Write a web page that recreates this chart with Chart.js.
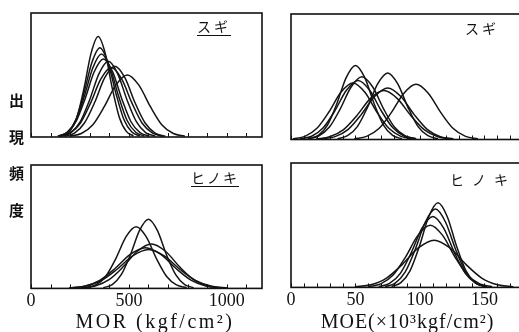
<!DOCTYPE html>
<html>
<head>
<meta charset="utf-8">
<script src="https://cdn.jsdelivr.net/npm/chart.js@4/dist/chart.umd.min.js"></script>
<style>
  html, body { margin: 0; padding: 0; background: #fff; }
  body { width: 519px; height: 332px; overflow: hidden; position: relative; }
  canvas { position: absolute; }
  .lbl { position: absolute; color: #111; white-space: nowrap; }
  .jp { font-family: "Noto Sans CJK JP", sans-serif; }
  .ylab { font-family: "Noto Sans CJK JP", sans-serif; font-weight: bold; font-size: 15px; left: 9px; }
  .ttl { font-family: "Liberation Serif", serif; font-size: 20px; text-align: center; }
</style>
</head>
<body>
<canvas id="tl" width="270" height="140" style="left:0;top:0"></canvas>
<canvas id="tr" width="300" height="142" style="left:260px;top:0"></canvas>
<canvas id="bl" width="270" height="170" style="left:0;top:150px"></canvas>
<canvas id="br" width="300" height="170" style="left:260px;top:150px"></canvas>

<div class="lbl ylab" style="top:89px">出</div>
<div class="lbl ylab" style="top:126px">現</div>
<div class="lbl ylab" style="top:162px">頻</div>
<div class="lbl ylab" style="top:199px">度</div>

<div class="lbl jp" style="left:197px;top:17px;font-size:14px;letter-spacing:3px;border-bottom:1.5px solid #111;line-height:18px">スギ</div>
<div class="lbl jp" style="left:465px;top:19px;font-size:14px;letter-spacing:3px;line-height:18px">スギ</div>
<div class="lbl jp" style="left:191px;top:168px;font-size:14px;letter-spacing:2px;border-bottom:1.5px solid #111;line-height:18px">ヒノキ</div>
<div class="lbl jp" style="left:450px;top:170px;font-size:14px;letter-spacing:8px;line-height:18px">ヒノキ</div>

<div class="lbl ttl" style="left:58px;width:194px;top:310px;letter-spacing:2.5px">MOR (kgf/cm²)</div>
<div class="lbl ttl" style="left:308px;width:199px;top:310px;letter-spacing:1px">MOE(×10³kgf/cm²)</div>

<script>
// MOR, スギ (kgf/cm2) - each curve read as x / y lists
const morSugiX = [
  [163,199,235,271,307,343,379,415,451,487,523],
  [148,189,230,270,311,352,393,434,474,515,556],
  [141,185,229,272,316,360,404,448,491,535,579],
  [136,183,230,276,323,370,417,464,510,557,604],
  [170,222,273,325,376,428,480,531,583,634,686],
  [146,199,252,304,357,410,463,516,568,621,674],
  [198,257,316,374,433,492,551,610,668,727,786],
  [155,203,251,299,347,395,443,491,539,587,635]
];
const morSugiY = [
  [0.9,4.5,16,39.4,67.6,81,67.6,39.4,16,4.5,0.9],
  [0.8,4.0,14.3,35.1,60.1,72,60.1,35.1,14.3,4.0,0.8],
  [0.7,3.8,13.3,32.6,55.9,67,55.9,32.6,13.3,3.8,0.7],
  [0.7,3.5,12.5,30.7,52.6,63,52.6,30.7,12.5,3.5,0.7],
  [0.6,3.2,11.3,27.8,47.6,57,47.6,27.8,11.3,3.2,0.6],
  [0.6,3.1,11.1,27.3,46.8,56,46.8,27.3,11.1,3.1,0.6],
  [0.6,2.8,9.9,24.4,41.8,50,41.8,24.4,9.9,2.8,0.6],
  [0.7,3.4,12.1,29.7,50.9,61,50.9,29.7,12.1,3.4,0.7]
];

// MOE, スギ (x10^3 kgf/cm2)
const moeSugiX = [
  [14,21.2,28.4,35.6,42.8,50,57.2,64.4,71.6,78.8,86],
  [13,21.4,29.8,38.2,46.6,55,63.4,71.8,80.2,88.6,97],
  [7,16,25,34,43,52,61,70,79,88,97],
  [1.5,10.8,20.1,29.4,38.7,48,57.3,66.6,75.9,85.2,94.5],
  [36,43.8,51.6,59.4,67.2,75,82.8,90.6,98.4,106.2,114],
  [24,34.2,44.4,54.6,64.8,75,85.2,95.4,105.6,115.8,126],
  [19.5,30,40.5,51,61.5,72,82.5,93,103.5,114,124.5],
  [49,58.6,68.2,77.8,87.4,97,106.6,116.2,125.8,135.4,145]
];
const moeSugiY = [
  [0.6,3.3,11.7,28.7,49.3,59,49.3,28.7,11.7,3.3,0.6],
  [0.6,2.8,9.9,24.4,41.8,50,41.8,24.4,9.9,2.8,0.6],
  [0.5,2.6,9.3,22.9,39.2,47,39.2,22.9,9.3,2.6,0.5],
  [0.5,2.5,8.9,21.9,37.6,45,37.6,21.9,8.9,2.5,0.5],
  [0.6,3.0,10.5,25.8,44.3,53,44.3,25.8,10.5,3.0,0.6],
  [0.5,2.3,8.1,20,34.2,41,34.2,20,8.1,2.3,0.5],
  [0.4,2.2,7.7,19,32.6,39,32.6,19,7.7,2.2,0.4],
  [0.5,2.5,8.7,21.4,36.7,44,36.7,21.4,8.7,2.5,0.5]
];

// MOR, ヒノキ
const morHinokiX = [
  [369,415,461,508,554,600,646,692,739,785,831],
  [279,331,382,434,485,537,589,640,692,743,795],
  [255,327,399,471,543,615,687,759,831,903,975],
  [195,273,351,429,507,585,663,741,819,897,975],
  [195,276,357,438,519,600,681,762,843,924,1005]
];
const morHinokiY = [
  [0.6,3.1,11.1,27.3,46.8,56,46.8,27.3,11.1,3.1,0.6],
  [0.6,2.8,9.9,24.4,41.8,50,41.8,24.4,9.9,2.8,0.6],
  [0.4,2.0,7.1,17.5,30.1,36,30.1,17.5,7.1,2.0,0.4],
  [0.4,1.8,6.5,16.1,27.6,33,27.6,16.1,6.5,1.8,0.4],
  [0.3,1.8,6.2,15.3,26.3,31.5,26.3,15.3,6.2,1.8,0.3]
];

// MOE, ヒノキ
const moeHinokiX = [
  [78,85.2,92.4,99.6,106.8,114,121.2,128.4,135.6,142.8,150],
  [73,80.8,88.6,96.4,104.2,112,119.8,127.6,135.4,143.2,151],
  [68,76.4,84.8,93.2,101.6,110,118.4,126.8,135.2,143.6,152],
  [60,69.6,79.2,88.8,98.4,108,117.6,127.2,136.8,146.4,156],
  [49.5,61.8,74.1,86.4,98.7,111,123.3,135.6,147.9,160.2,172.5]
];
const moeHinokiY = [
  [0.7,3.8,13.5,33.1,56.8,68,56.8,33.1,13.5,3.8,0.7],
  [0.7,3.5,12.5,30.7,52.6,63,52.6,30.7,12.5,3.5,0.7],
  [0.6,3.2,11.3,27.8,47.6,57,47.6,27.8,11.3,3.2,0.6],
  [0.6,2.8,9.9,24.4,41.8,50,41.8,24.4,9.9,2.8,0.6],
  [0.4,2.1,7.5,18.5,31.7,38,31.7,18.5,7.5,2.1,0.4]
];

// tick labels shown under the bottom panels
const morTickLabels = [0, 500, 1000];
const moeTickLabels = [0, 50, 100, 150];

// box around the plot + small tick marks pointing in from the bottom edge
const framePlugin = {
  id: 'frame',
  afterDraw: function(chart) {
    var ctx = chart.ctx;
    var a = chart.chartArea;
    var xs = chart.scales.x;
    ctx.save();
    ctx.strokeStyle = '#111';
    ctx.lineWidth = 1;
    xs.ticks.forEach(function(t) {
      var px = Math.round(xs.getPixelForValue(t.value)) + 0.5;
      ctx.beginPath();
      ctx.moveTo(px, a.bottom);
      ctx.lineTo(px, a.bottom - 4);
      ctx.stroke();
    });
    ctx.lineWidth = 1.6;
    ctx.strokeRect(a.left, a.top, a.right - a.left, a.bottom - a.top);
    ctx.restore();
  }
};

function makePanel(id, xsList, ysList, xMax, step, labels, pad) {
  var datasets = xsList.map(function(xArr, i) {
    return {
      data: xArr.map(function(x, j) { return {x: x, y: ysList[i][j]}; }),
      borderColor: '#141414',
      borderWidth: 1.5,
      pointRadius: 0,
      fill: false,
      cubicInterpolationMode: 'monotone'
    };
  });
  return new Chart(document.getElementById(id), {
    type: 'line',
    data: { datasets: datasets },
    options: {
      responsive: false,
      animation: false,
      devicePixelRatio: 1,
      layout: { padding: pad },
      plugins: { legend: { display: false }, tooltip: { enabled: false } },
      scales: {
        x: {
          type: 'linear',
          min: 0,
          max: xMax,
          grid: { display: false, drawTicks: false },
          border: { display: false },
          ticks: {
            display: labels != null,
            stepSize: step,
            autoSkip: false,
            maxRotation: 0,
            includeBounds: false,
            padding: 2,
            color: '#111',
            font: { family: 'Liberation Serif', size: 18 },
            callback: function(v) { return labels && labels.indexOf(v) >= 0 ? String(v) : ''; }
          }
        },
        y: { display: false, min: 0, max: 100 }
      }
    },
    plugins: [framePlugin]
  });
}

makePanel('tl', morSugiX, morSugiY, 1180, 100, null, {left: 31, right: 8, top: 13, bottom: 3});
makePanel('tr', moeSugiX, moeSugiY, 190, 10, null, {left: 31, right: 24, top: 14, bottom: 2.5});
makePanel('bl', morHinokiX, morHinokiY, 1180, 100, morTickLabels, {left: 31, right: 8, top: 15, bottom: 6});
makePanel('br', moeHinokiX, moeHinokiY, 190, 10, moeTickLabels, {left: 31, right: 24, top: 13, bottom: 7});
</script>
</body>
</html>
